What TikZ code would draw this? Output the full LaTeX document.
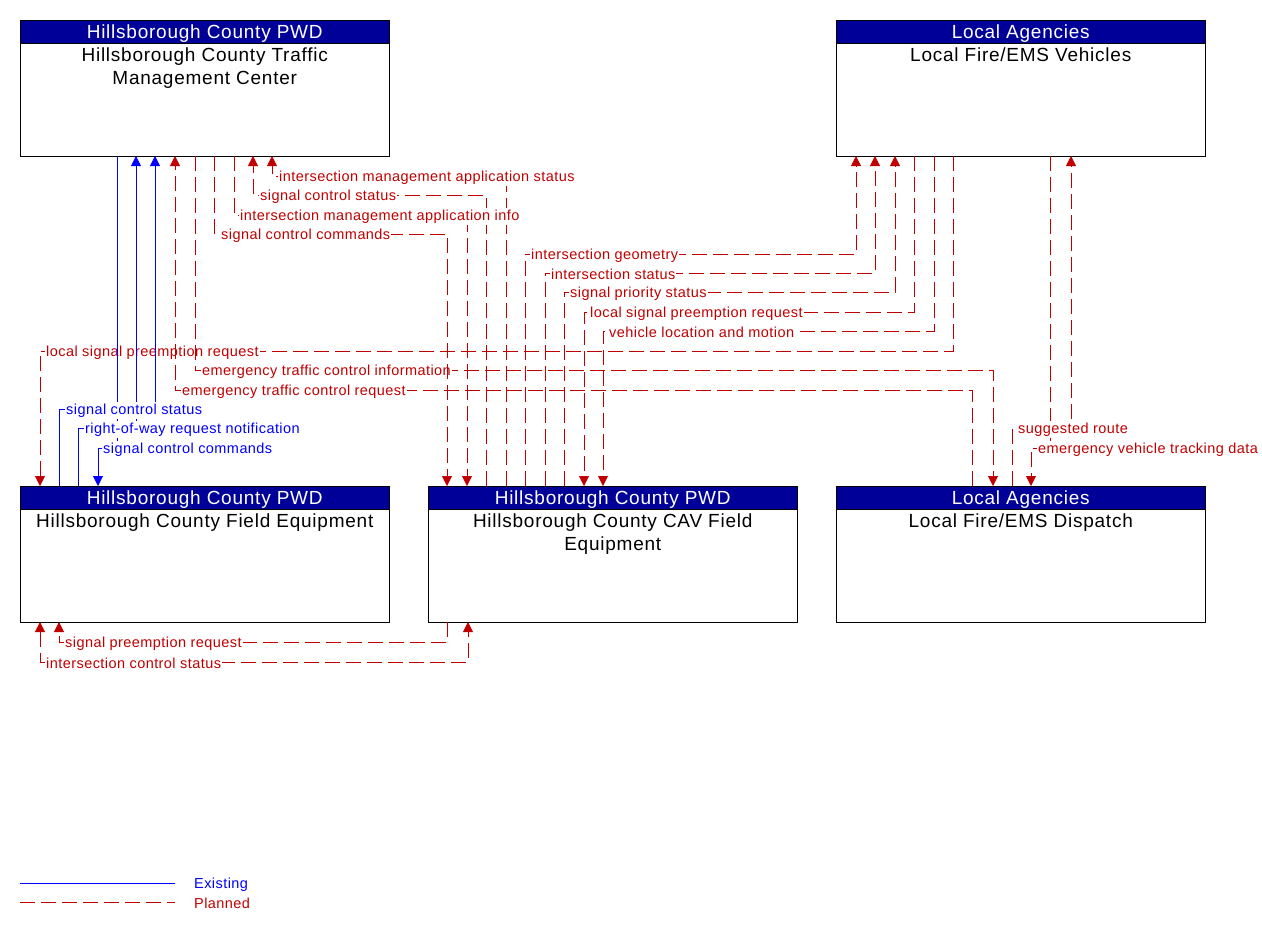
\documentclass[tikz,border=0pt]{standalone}
\usepackage{fontspec}
\setmainfont{Liberation Sans}
\newfontfamily\boxfamily{Liberation Sans}[LetterSpace=4]
\newfontfamily\lblfamily{Liberation Sans}[LetterSpace=3]
\usetikzlibrary{arrows.meta}

\definecolor{flowred}{RGB}{192,0,0}
\definecolor{flowblue}{RGB}{0,0,255}
\definecolor{hdrblue}{RGB}{0,0,153}

\tikzset{
  sysbox/.style={draw, line width=1pt, anchor=north west, minimum width=369.5pt, minimum height=136pt, inner sep=0pt, outer sep=0pt},
  hdr/.style={draw, line width=1pt, fill=hdrblue, text=white, anchor=north west, minimum width=369.5pt, minimum height=23pt, inner sep=0pt, outer sep=0pt, text depth=0pt, font=\boxfamily\fontsize{19}{23}\selectfont},
  boxtext/.style={anchor=north, align=center, inner sep=0pt, font=\boxfamily\fontsize{19}{23}\selectfont},
  existing/.style={draw=flowblue, line width=0.9pt},
  planned/.style={draw=flowred, line width=0.9pt, dash pattern=on 15pt off 6pt},
  flow/.style={-{Triangle[length=10pt,width=10pt]}},
  lbl/.style={fill=white, anchor=west, inner xsep=1pt, inner ysep=2pt, yshift=-1.5pt, font=\lblfamily\fontsize{14.5}{16}\selectfont},
}

\begin{document}
\begin{tikzpicture}[x=1pt, y=-1pt]
    \useasboundingbox (0,0) rectangle (1262,932);

    % Boxes
    \node[sysbox] (tmc) at (20,20) {};
    \node[hdr] (tmc-h) at (20,20) {Hillsborough County PWD};
    \node[boxtext] (tmc-t) at ([yshift=-5pt]tmc-h.south) {Hillsborough County Traffic\\Management Center};

    \node[sysbox] (veh) at (836,20) {};
    \node[hdr] (veh-h) at (836,20) {Local Agencies};
    \node[boxtext] (veh-t) at ([yshift=-5pt]veh-h.south) {Local Fire/EMS Vehicles};

    \node[sysbox] (fe) at (20,486) {};
    \node[hdr] (fe-h) at (20,486) {Hillsborough County PWD};
    \node[boxtext] (fe-t) at ([yshift=-5pt]fe-h.south) {Hillsborough County Field Equipment};

    \node[sysbox] (cav) at (428,486) {};
    \node[hdr] (cav-h) at (428,486) {Hillsborough County PWD};
    \node[boxtext] (cav-t) at ([yshift=-5pt]cav-h.south) {Hillsborough County CAV Field\\Equipment};

    \node[sysbox] (disp) at (836,486) {};
    \node[hdr] (disp-h) at (836,486) {Local Agencies};
    \node[boxtext] (disp-t) at ([yshift=-5pt]disp-h.south) {Local Fire/EMS Dispatch};

    % Long flows across the middle
    \draw[planned,flow] ([xshift=117pt]veh.south west) -- ++(0,195) -| ([xshift=20pt]fe.north west);
    \node[lbl,text=flowred] (l-lspr1) at (45,351) {local signal preemption request};
    \draw[planned,flow] ([xshift=175pt]tmc.south west) -- ++(0,214) -| ([xshift=157pt]disp.north west);
    \node[lbl,text=flowred] (l-etci) at (201,370) {emergency traffic control information};
    \draw[planned,flow] ([xshift=136pt]disp.north west) -- ++(0,-96) -| ([xshift=155pt]tmc.south west);
    \node[lbl,text=flowred] (l-etcr) at (181,390) {emergency traffic control request};

    % TMC <-> field equipment (existing)
    \draw[existing,flow] ([xshift=97pt]tmc.south west) -- ++(0,292) -| ([xshift=78pt]fe.north west);
    \node[lbl,text=flowblue] (l-scc1) at (102,448) {signal control commands};
    \draw[existing,flow] ([xshift=58pt]fe.north west) -- ++(0,-58) -| ([xshift=116pt]tmc.south west);
    \node[lbl,text=flowblue] (l-row) at (84,428) {right-of-way request notification};
    \draw[existing,flow] ([xshift=39pt]fe.north west) -- ++(0,-77) -| ([xshift=135pt]tmc.south west);
    \node[lbl,text=flowblue] (l-scs1) at (65,409) {signal control status};

    % TMC <-> CAV field equipment
    \draw[planned,flow] ([xshift=78pt]cav.north west) -- ++(0,-310) -| ([xshift=252pt]tmc.south west);
    \node[lbl,text=flowred] (l-imas) at (278,176) {intersection management application status};
    \draw[planned,flow] ([xshift=58pt]cav.north west) -- ++(0,-291) -| ([xshift=233pt]tmc.south west);
    \node[lbl,text=flowred] (l-scs2) at (259,195) {signal control status};
    \draw[planned,flow] ([xshift=214pt]tmc.south west) -- ++(0,59) -| ([xshift=39pt]cav.north west);
    \node[lbl,text=flowred] (l-imai) at (239,215) {intersection management application info};
    \draw[planned,flow] ([xshift=194pt]tmc.south west) -- ++(0,78) -| ([xshift=19pt]cav.north west);
    \node[lbl,text=flowred] (l-scc2) at (220,234) {signal control commands};

    % Vehicles <-> CAV field equipment
    \draw[planned,flow] ([xshift=97pt]cav.north west) -- ++(0,-232) -| ([xshift=20pt]veh.south west);
    \node[lbl,text=flowred] (l-ig) at (530,254) {intersection geometry};
    \draw[planned,flow] ([xshift=117pt]cav.north west) -- ++(0,-213) -| ([xshift=39pt]veh.south west);
    \node[lbl,text=flowred] (l-is) at (550,273) {intersection status};
    \draw[planned,flow] ([xshift=136pt]cav.north west) -- ++(0,-194) -| ([xshift=59pt]veh.south west);
    \node[lbl,text=flowred] (l-sps) at (569,292) {signal priority status};
    \draw[planned,flow] ([xshift=78pt]veh.south west) -- ++(0,156) -| ([xshift=156pt]cav.north west);
    \node[lbl,text=flowred] (l-lspr2) at (589,312) {local signal preemption request};
    \draw[planned,flow] ([xshift=98pt]veh.south west) -- ++(0,175) -| ([xshift=175pt]cav.north west);
    \node[lbl,text=flowred] (l-vlm) at (608,331) {vehicle location and motion};

    % Vehicles <-> dispatch
    \draw[planned,flow] ([xshift=214pt]veh.south west) -- ++(0,292) -| ([xshift=195pt]disp.north west);
    \node[lbl,text=flowred] (l-evtd) at (1037,448) {emergency vehicle tracking data};
    \draw[planned,flow] ([xshift=176pt]disp.north west) -- ++(0,-58) -| ([xshift=235pt]veh.south west);
    \node[lbl,text=flowred] (l-sr) at (1017,428) {suggested route};

    % Field equipment <-> CAV field equipment (below)
    \draw[planned,flow] ([xshift=19pt]cav.south west) -- ++(0,20) -| ([xshift=39pt]fe.south west);
    \node[lbl,text=flowred] (l-spr) at (64,642) {signal preemption request};
    \draw[planned,{Triangle[length=10pt,width=10pt]}-{Triangle[length=10pt,width=10pt]}] ([xshift=20pt]fe.south west) -- ++(0,40) -| ([xshift=40pt]cav.south west);
    \node[lbl,text=flowred] (l-ics) at (45,662) {intersection control status};

    % Legend
    \coordinate (leg-e) at (20,883);
    \coordinate (leg-p) at (20,902);
    \node[lbl,text=flowblue,fill=none] (leg-et) at (193,883) {Existing};
    \node[lbl,text=flowred,fill=none] (leg-pt) at (193,902) {Planned};
    \draw[existing] (leg-e) -- ++(155,0);
    \draw[planned] (leg-p) -- ++(155,0);
\end{tikzpicture}
\end{document}
